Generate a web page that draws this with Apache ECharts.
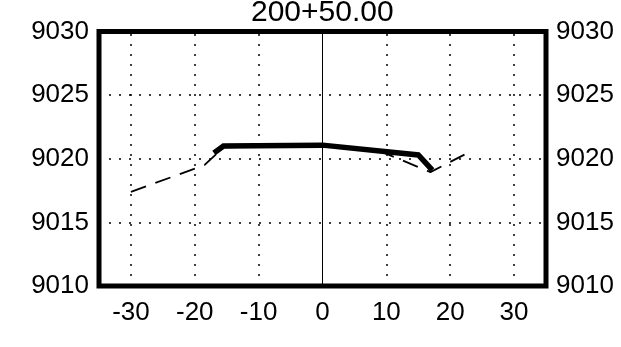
<!DOCTYPE html>
<html>
<head>
<meta charset="utf-8">
<script src="https://cdn.jsdelivr.net/npm/echarts@6/dist/echarts.min.js"></script>
<style>
html,body{margin:0;padding:0;background:#fff;}
#chart{width:621px;height:347px;}
</style>
</head>
<body>
<div id="chart"></div>
<script>
// ---- data ----
const titleText = '200+50.00';
const groundX = [-30, -18.5, -15.5, 0, 9, 16.9, 23.3];
const groundY = [9017.4, 9019.5, 9020.9, 9021.05, 9020.6, 9018.95, 9020.6];
const designX = [-17, -15.5, 0, 15, 17.2];
const designY = [9020.45, 9021.0, 9021.07, 9020.3, 9019.1];
const xMin = -35, xMax = 35, xStep = 5, xLabelStep = 10;
const yMin = 9010, yMax = 9030, yStep = 5;
const xGridValues = [-30, -20, -10, 10, 20, 30];
const yGridValues = [9015, 9020, 9025];
const centerLineX = 0;

const zip = (xs, ys) => xs.map((x, i) => [x, ys[i]]);

const chart = echarts.init(document.getElementById('chart'), null, {renderer: 'canvas'});
const labelFont = {fontFamily: 'Liberation Sans, Arial, sans-serif', fontSize: 26, color: '#000'};
const dottedStyle = {color: '#000', width: 1.5, type: [2, 8]};

function yAxisDef(pos) {
  return {
    type: 'value', position: pos, min: yMin, max: yMax, interval: yStep,
    axisLine: {show: false}, axisTick: {show: false},
    axisLabel: Object.assign({margin: 10, formatter: v => String(v)}, labelFont),
    splitLine: {show: false}
  };
}

const gridMarks = xGridValues.map(v => ({xAxis: v}))
  .concat(yGridValues.map(v => ({yAxis: v})));

chart.setOption({
  animation: false,
  backgroundColor: '#fff',
  title: {
    text: titleText, left: 251, top: -2, padding: 0,
    textStyle: {fontFamily: 'Liberation Sans, Arial, sans-serif', fontSize: 30, fontWeight: 'normal', color: '#000'}
  },
  grid: {left: 99, right: 75, top: 31.5, bottom: 61, show: true, borderColor: '#000', borderWidth: 5, backgroundColor: 'transparent', z: 10},
  xAxis: {
    type: 'value', min: xMin, max: xMax, interval: xStep,
    axisLine: {show: false}, axisTick: {show: false},
    axisLabel: Object.assign({
      margin: 14, showMinLabel: false, showMaxLabel: false,
      formatter: v => (Math.abs(v % xLabelStep) < 1e-9 ? String(v) : '')
    }, labelFont),
    splitLine: {show: false}
  },
  yAxis: [yAxisDef('left'), yAxisDef('right')],
  series: [
    {
      type: 'line', data: [], symbol: 'none', z: 1,
      markLine: {
        silent: true, symbol: 'none', label: {show: false}, animation: false,
        lineStyle: dottedStyle,
        data: gridMarks
      }
    },
    {
      type: 'line', data: zip(groundX, groundY), symbol: 'none', z: 2,
      lineStyle: {color: '#000', width: 1.8, type: [16, 10]},
      markLine: {
        silent: true, symbol: 'none', label: {show: false},
        lineStyle: {color: '#000', width: 1, type: 'solid'},
        data: [{xAxis: centerLineX}]
      }
    },
    {
      type: 'line', data: zip(designX, designY), symbol: 'none', z: 3,
      lineStyle: {color: '#000', width: 5.5, join: 'miter'}
    }
  ]
});
</script>
</body>
</html>
